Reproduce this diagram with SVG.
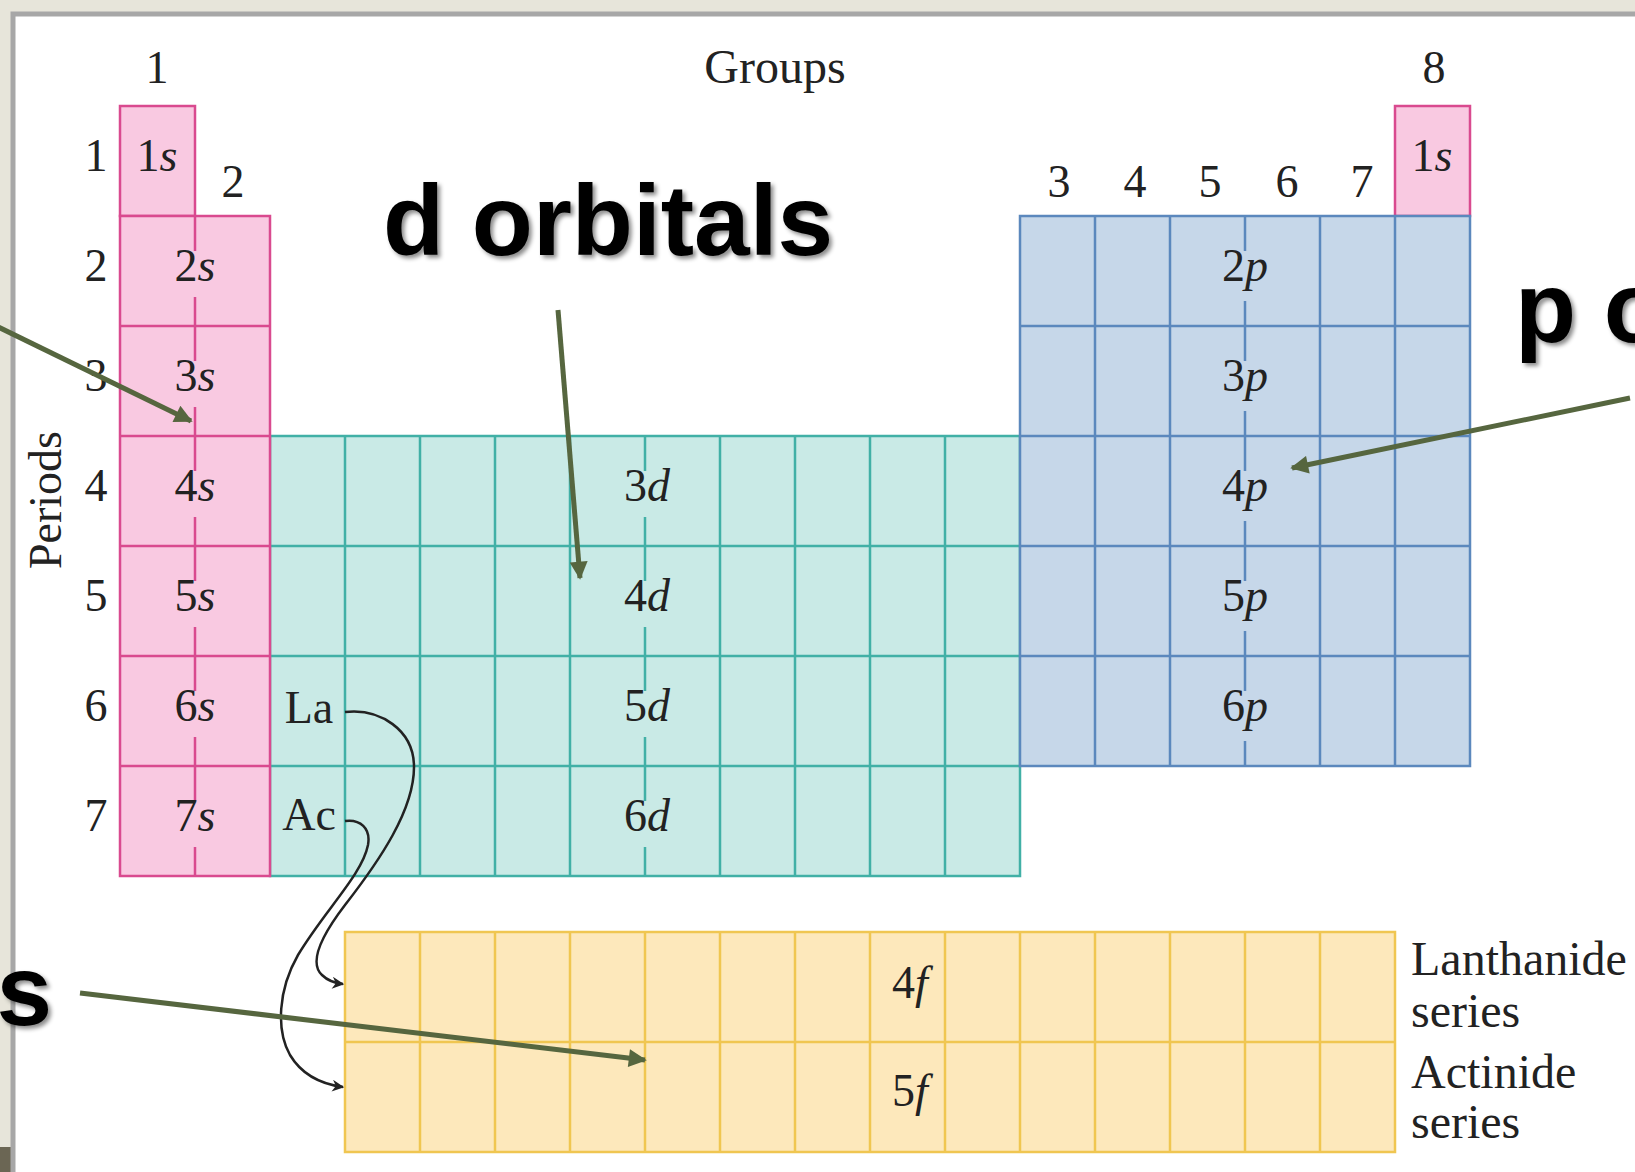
<svg xmlns="http://www.w3.org/2000/svg" width="1635" height="1172" viewBox="0 0 1635 1172">
  <defs>
    <style>
      .lbl { font-family: "Liberation Serif", "DejaVu Serif", serif; font-size: 46px; fill: #222; }
      .side { font-size: 48px; }
      .it { font-style: italic; }
      .big { font-family: "Liberation Sans", Arial, sans-serif; font-size: 100px; font-weight: bold; fill: #000; }
      .s-cell { fill: #f9c9e1; stroke: #d94a8f; stroke-width: 2.5; }
      .s-line { stroke: #d94a8f; stroke-width: 2.5; fill: none; }
      .d-cell { fill: #c9eae6; stroke: #41b0a6; stroke-width: 2.5; }
      .d-line { stroke: #41b0a6; stroke-width: 2.5; fill: none; }
      .p-cell { fill: #c6d7e9; stroke: #5b88bd; stroke-width: 2.5; }
      .p-line { stroke: #5b88bd; stroke-width: 2.5; fill: none; }
      .f-cell { fill: #fde8bb; stroke: #f0c651; stroke-width: 2.5; }
      .f-line { stroke: #f0c651; stroke-width: 2.5; fill: none; }
      .pointer { stroke: #56663f; stroke-width: 5; fill: none; marker-end: url(#olive-head); }
      .series { stroke: #222; stroke-width: 2.5; fill: none; marker-end: url(#black-head); }
    </style>
    <marker id="olive-head" viewBox="0 0 10 10" refX="9" refY="5" markerUnits="userSpaceOnUse" markerWidth="22" markerHeight="18" orient="auto">
      <path d="M0,0 L10,5 L0,10 z" fill="#56663f"/>
    </marker>
    <marker id="black-head" viewBox="0 0 10 10" refX="9" refY="5" markerUnits="userSpaceOnUse" markerWidth="20" markerHeight="12" orient="auto">
      <path d="M0,0 L10,5 L0,10 L3,5 z" fill="#222"/>
    </marker>
    <filter id="shadow" x="-5%" y="-20%" width="115%" height="150%">
      <feDropShadow dx="3" dy="3" stdDeviation="2" flood-color="#000" flood-opacity="0.45"/>
    </filter>
  </defs>

  <!-- backdrop and page frame -->
  <rect x="0" y="0" width="1635" height="1172" fill="#e7e5da"/>
  <rect x="0" y="1147" width="11" height="25" fill="#6b6654"/>
  <rect x="13" y="14" width="1650" height="1200" fill="#ffffff" stroke="#a7a7a7" stroke-width="5"/>

  <!-- axis captions -->
  <g id="axis-labels" class="lbl">
    <text x="775" y="83" text-anchor="middle" font-size="48">Groups</text>
    <text x="157" y="83" text-anchor="middle">1</text>
    <text x="233" y="197" text-anchor="middle">2</text>
    <text x="1059" y="197" text-anchor="middle">3</text>
    <text x="1135" y="197" text-anchor="middle">4</text>
    <text x="1210" y="197" text-anchor="middle">5</text>
    <text x="1287" y="197" text-anchor="middle">6</text>
    <text x="1362" y="197" text-anchor="middle">7</text>
    <text x="1434" y="83" text-anchor="middle">8</text>
    <text transform="translate(61,500) rotate(-90)" text-anchor="middle">Periods</text>
    <text x="96" y="171" text-anchor="middle">1</text>
    <text x="96" y="281" text-anchor="middle">2</text>
    <text x="96" y="391" text-anchor="middle">3</text>
    <text x="96" y="501" text-anchor="middle">4</text>
    <text x="96" y="611" text-anchor="middle">5</text>
    <text x="96" y="721" text-anchor="middle">6</text>
    <text x="96" y="831" text-anchor="middle">7</text>
  </g>

  <!-- d block (transition metals) -->
  <g id="d-block">
    <rect class="d-cell" x="270" y="436" width="750" height="440"/>
    <path class="d-line" d="M345,436V876 M420,436V876 M495,436V876 M570,436V876 M720,436V876 M795,436V876 M870,436V876 M945,436V876 M270,546H1020 M270,656H1020 M270,766H1020"/>
    <path class="d-line" d="M645,436V471 M645,517V581 M645,627V691 M645,737V801 M645,847V876"/>
    <g class="lbl" text-anchor="middle">
      <text x="647" y="501">3<tspan class="it">d</tspan></text>
      <text x="647" y="611">4<tspan class="it">d</tspan></text>
      <text x="647" y="721">5<tspan class="it">d</tspan></text>
      <text x="647" y="831">6<tspan class="it">d</tspan></text>
      <text x="309" y="723">La</text>
      <text x="309" y="830">Ac</text>
    </g>
  </g>

  <!-- s block -->
  <g id="s-block">
    <rect class="s-cell" x="120" y="106" width="75" height="110"/>
    <rect class="s-cell" x="120" y="216" width="150" height="660"/>
    <path class="s-line" d="M120,326H270 M120,436H270 M120,546H270 M120,656H270 M120,766H270"/>
    <path class="s-line" d="M195,216V251 M195,297V361 M195,407V471 M195,517V581 M195,627V691 M195,737V801 M195,847V876"/>
    <rect class="s-cell" x="1395" y="106" width="75" height="110"/>
    <g class="lbl" text-anchor="middle">
      <text x="157" y="171">1<tspan class="it">s</tspan></text>
      <text x="195" y="281">2<tspan class="it">s</tspan></text>
      <text x="195" y="391">3<tspan class="it">s</tspan></text>
      <text x="195" y="501">4<tspan class="it">s</tspan></text>
      <text x="195" y="611">5<tspan class="it">s</tspan></text>
      <text x="195" y="721">6<tspan class="it">s</tspan></text>
      <text x="195" y="831">7<tspan class="it">s</tspan></text>
      <text x="1432" y="171">1<tspan class="it">s</tspan></text>
    </g>
  </g>

  <!-- p block -->
  <g id="p-block">
    <rect class="p-cell" x="1020" y="216" width="450" height="550"/>
    <path class="p-line" d="M1095,216V766 M1170,216V766 M1320,216V766 M1395,216V766 M1020,326H1470 M1020,436H1470 M1020,546H1470 M1020,656H1470"/>
    <path class="p-line" d="M1245,216V251 M1245,301V361 M1245,411V471 M1245,521V581 M1245,631V691 M1245,741V766"/>
    <g class="lbl" text-anchor="middle">
      <text x="1245" y="281">2<tspan class="it">p</tspan></text>
      <text x="1245" y="391">3<tspan class="it">p</tspan></text>
      <text x="1245" y="501">4<tspan class="it">p</tspan></text>
      <text x="1245" y="611">5<tspan class="it">p</tspan></text>
      <text x="1245" y="721">6<tspan class="it">p</tspan></text>
    </g>
  </g>

  <!-- f block (inner transition series) -->
  <g id="f-block">
    <rect class="f-cell" x="345" y="932" width="1050" height="220"/>
    <path class="f-line" d="M420,932V1152 M495,932V1152 M570,932V1152 M645,932V1152 M720,932V1152 M795,932V1152 M870,932V1152 M945,932V1152 M1020,932V1152 M1095,932V1152 M1170,932V1152 M1245,932V1152 M1320,932V1152 M345,1042H1395"/>
    <g class="lbl" text-anchor="middle">
      <text x="910" y="998">4<tspan class="it">f</tspan></text>
      <text x="910" y="1106">5<tspan class="it">f</tspan></text>
    </g>
    <g class="lbl side">
      <text x="1411" y="975">Lanthanide</text>
      <text x="1411" y="1027">series</text>
      <text x="1411" y="1088">Actinide</text>
      <text x="1411" y="1138">series</text>
    </g>
  </g>

  <!-- headline captions -->
  <g id="captions" filter="url(#shadow)">
    <text class="big" x="383" y="255">d orbitals</text>
    <text class="big" x="1515" y="342">p orbitals</text>
    <text class="big" x="52" y="1025" text-anchor="end">f orbitals</text>
  </g>

  <!-- connectors -->
  <g id="connectors">
    <path class="series" d="M345,712 C380,708 414,730 414,767 C414,810 380,860 345,905 C322,935 308,962 322,975 C328,981 334,983 343,984"/>
    <path class="series" d="M345,821 C360,819 371,828 368,845 C362,875 325,910 298,955 C278,990 276,1030 290,1055 C302,1075 320,1084 343,1087"/>
    <line class="pointer" x1="-10" y1="323" x2="191" y2="421"/>
    <line class="pointer" x1="558" y1="310" x2="580" y2="578"/>
    <line class="pointer" x1="1630" y1="398" x2="1292" y2="468"/>
    <line class="pointer" x1="80" y1="993" x2="645" y2="1060"/>
  </g>
</svg>
